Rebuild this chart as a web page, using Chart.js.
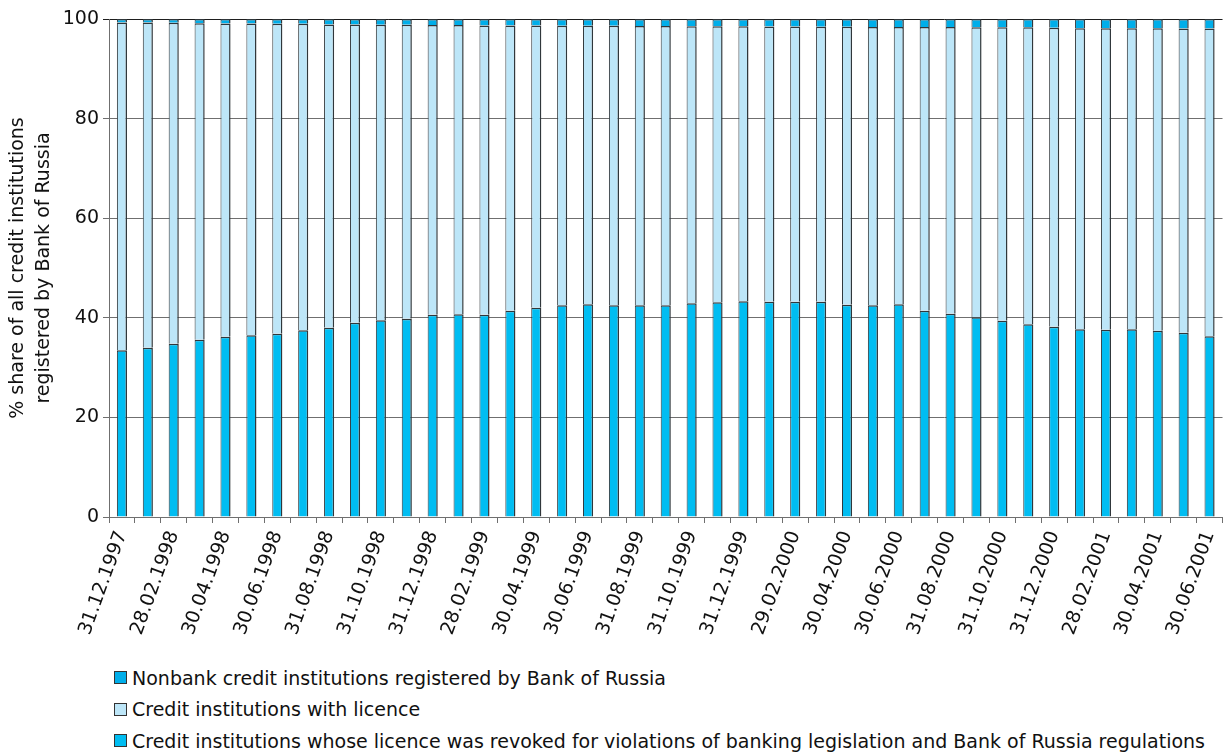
<!DOCTYPE html>
<html>
<head>
<meta charset="utf-8">
<script src="https://cdn.jsdelivr.net/npm/chart.js@4"></script>
<style>
  html,body{margin:0;padding:0;background:#fff;overflow:hidden;width:1231px;height:753px;}
  #wrap{position:absolute;left:0;top:0;width:1236px;height:660px;}
  #legend{position:absolute;left:114px;top:662px;font:19px "DejaVu Sans",sans-serif;color:#111;}
  .lg-row{height:31.5px;display:flex;align-items:center;white-space:nowrap;}
  .lg-box{width:11px;height:11px;border:1px solid #333;margin-right:5px;flex:none;}
</style>
</head>
<body>
<div id="wrap"><canvas id="c"></canvas></div>
<div id="legend"></div>
<script>
/* --- DATA --- */
const months = ['31.12.1997','31.01.1998','28.02.1998','31.03.1998','30.04.1998','31.05.1998','30.06.1998',
  '31.07.1998','31.08.1998','30.09.1998','31.10.1998','30.11.1998','31.12.1998','31.01.1999','28.02.1999',
  '31.03.1999','30.04.1999','31.05.1999','30.06.1999','31.07.1999','31.08.1999','30.09.1999','31.10.1999',
  '30.11.1999','31.12.1999','31.01.2000','29.02.2000','31.03.2000','30.04.2000','31.05.2000','30.06.2000',
  '31.07.2000','31.08.2000','30.09.2000','31.10.2000','30.11.2000','31.12.2000','31.01.2001','28.02.2001',
  '31.03.2001','30.04.2001','31.05.2001','30.06.2001'];

// % share, bottom of stack
const revoked = [33.5,34.0,34.8,35.6,36.2,36.5,36.8,37.5,38.0,39.0,39.5,39.8,40.6,40.7,40.6,41.4,42.0,42.5,42.7,
  42.5,42.5,42.5,42.9,43.1,43.3,43.2,43.2,43.2,42.6,42.5,42.7,41.4,40.8,40.1,39.4,38.7,38.2,37.7,37.6,37.7,37.4,37.0,36.3];
// middle of stack
const licenced = [65.8,65.3,64.45,63.55,62.9,62.6,62.25,61.55,60.9,59.9,59.35,59.05,58.2,58.1,58.1,57.3,56.7,56.15,55.95,
  56.15,56.1,56.1,55.65,55.45,55.25,55.3,55.3,55.25,55.85,55.9,55.7,57.0,57.6,58.25,58.95,59.65,60.05,60.45,60.55,60.45,60.75,61.1,61.8];
// top of stack
const nonbank = [0.7,0.7,0.75,0.85,0.9,0.9,0.95,0.95,1.1,1.1,1.15,1.15,1.2,1.2,1.3,1.3,1.3,1.35,1.35,
  1.35,1.4,1.4,1.45,1.45,1.45,1.5,1.5,1.55,1.55,1.6,1.6,1.6,1.6,1.65,1.65,1.65,1.75,1.85,1.85,1.85,1.85,1.9,1.9];

const yTicks = [0,20,40,60,80,100];

const FONT = '"DejaVu Sans", sans-serif';
const border = {left:1, right:1.5, top:1.5, bottom:0};

function ds(label, data, color){
  return {label, data, backgroundColor:color, borderColor:'#30373b', borderWidth:border,
    borderSkipped:'start', barPercentage:0.39, categoryPercentage:1, stack:'s'};
}

const chart = new Chart(document.getElementById('c'), {
  type:'bar',
  data:{labels:months, datasets:[
    ds('Credit institutions whose licence was revoked for violations of banking legislation and Bank of Russia regulations', revoked, '#00bdf2'),
    ds('Credit institutions with licence', licenced, '#bde6f8'),
    ds('Nonbank credit institutions registered by Bank of Russia', nonbank, '#00aeea')
  ]},
  options:{
    responsive:true, maintainAspectRatio:false, animation:false, devicePixelRatio:1,
    layout:{padding:{top:19, left:0, right:0, bottom:0}},
    plugins:{legend:{display:false}, tooltip:{enabled:false}},
    scales:{
      x:{stacked:true,
        grid:{display:true, drawOnChartArea:false, tickLength:6, color:'#6f6f6f', offset:true},
        border:{color:'#6f6f6f'},
        ticks:{autoSkip:false, minRotation:70, maxRotation:70, padding:5, color:'#111',
          font:{family:FONT, size:19},
          callback:(v,i)=> i % 2 === 0 ? months[i] : ''},
        afterFit:s=>{ s.height = 143; }
      },
      y:{stacked:true, min:0, max:100,
        afterBuildTicks:s=>{ s.ticks = yTicks.map(v=>({value:v})); },
        grid:{tickLength:6, color:c=> c.tick && c.tick.value === 100 ? '#1e1e1e' : '#6f6f6f', lineWidth:1},
        border:{color:'#6f6f6f'},
        ticks:{padding:4, color:'#111', font:{family:FONT, size:19}},
        title:{display:true, text:['% share of all credit institutions','registered by Bank of Russia'],
          color:'#111', font:{family:FONT, size:19, lineHeight:1.32}, padding:{top:6, bottom:0}},
        afterFit:s=>{ s.width = 109; }
      }
    }
  }
});

/* --- LEGEND (top of stack first) --- */
const lg = document.getElementById('legend');
lg.innerHTML = chart.data.datasets.slice().reverse().map(d=>
  `<div class="lg-row"><span class="lg-box" style="background:${d.backgroundColor}"></span><span>${d.label}</span></div>`
).join('');
</script>
</body>
</html>
